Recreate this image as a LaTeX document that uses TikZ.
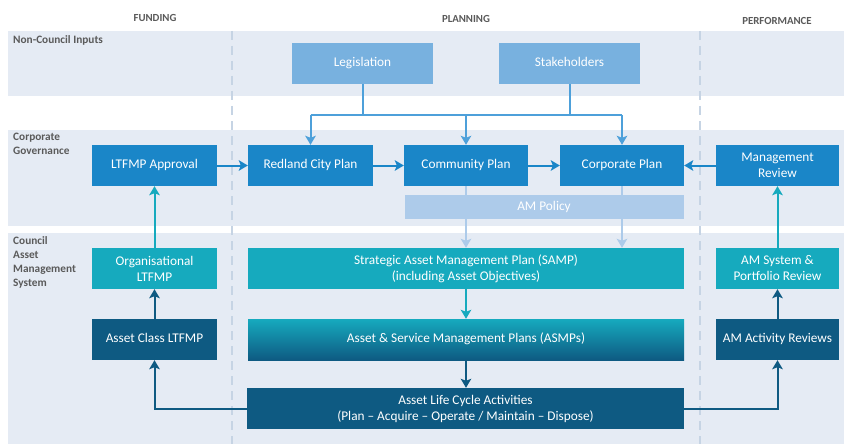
\documentclass[tikz,border=0pt]{standalone}
\usepackage{fontspec}
\setmainfont{Carlito}
\usetikzlibrary{arrows.meta}
\definecolor{bandbg}{HTML}{E5EBF4}
\definecolor{dashc}{HTML}{C6D4E4}
\definecolor{inblue}{HTML}{78B1DF}
\definecolor{corpblue}{HTML}{1A86C8}
\definecolor{polblue}{HTML}{ADCBEA}
\definecolor{tealc}{HTML}{16AABE}
\definecolor{navyc}{HTML}{0E5A82}
\definecolor{linkblue}{HTML}{4DA0DA}
\definecolor{labgray}{HTML}{5A5A5A}
\begin{document}
\begin{tikzpicture}[x=1pt,y=-1pt,
  box/.style={draw=none,text=white,align=center,inner sep=0pt,minimum height=41pt,font=\fontsize{13.3}{16}\selectfont},
  sline/.style={text height=9.5pt,text depth=2.8pt},
  inbox/.style={box,sline,fill=inblue,minimum width=141pt},
  corpbox/.style={box,fill=corpblue,minimum width=124pt},
  tealbox/.style={box,fill=tealc},
  navybox/.style={box,fill=navyc},
  hdr/.style={font=\fontsize{10.8}{13}\selectfont\bfseries,text=labgray},
  bandlab/.style={font=\fontsize{11.3}{14}\selectfont\bfseries,text=labgray,anchor=north west,inner sep=0pt,align=left},
  arr/.style={line width=2pt,-{Stealth[length=9pt,width=10.5pt,inset=2pt]}},
  linkarr/.style={arr,draw=linkblue},
  linkline/.style={line width=2pt,draw=linkblue},
  corparr/.style={arr,draw=corpblue},
  lightarr/.style={arr,draw=polblue},
  tealarr/.style={arr,draw=tealc},
  navyarr/.style={arr,draw=navyc}]
\useasboundingbox[fill=white] (0,0) rectangle (844,444);
% bands
\fill[bandbg] (8,31) rectangle (844,96);
\fill[bandbg] (8,130) rectangle (844,226);
\fill[bandbg] (8,233) rectangle (844,444);
% dashed column separators
\draw[dashc,line width=1.5pt,dash pattern=on 9pt off 6pt] (232,31) -- (232,444);
\draw[dashc,line width=1.5pt,dash pattern=on 9pt off 6pt] (700,31) -- (700,444);
% headers
\node[hdr] (hf) at (155,18) {FUNDING};
\node[hdr] (hp) at (466,19) {PLANNING};
\node[hdr] (hr) at (777,21) {PERFORMANCE};
% band labels
\node[bandlab] (l1) at (13,35) {Non-Council Inputs};
\node[bandlab] (l2) at (13,133) {Corporate\\Governance};
\node[bandlab] (l3) at (13,236) {Council\\Asset\\Management\\System};
% boxes
\node[inbox] (leg) at (362.5,63.5) {Legislation};
\node[inbox] (stk) at (569.5,63.5) {Stakeholders};
\node[corpbox,sline,minimum width=125pt] (ltfa) at (154.5,165.5) {LTFMP Approval};
\node[corpbox,sline,minimum width=125pt] (rcp) at (310.5,165.5) {Redland City Plan};
\node[corpbox,sline] (cmp) at (466,165.5) {Community Plan};
\node[corpbox,sline] (cpp) at (622,165.5) {Corporate Plan};
\node[corpbox,minimum width=123pt] (mgr) at (777.5,165.5) {Management\\Review};
\node[tealbox,minimum width=436pt] (samp) at (466,268.5) {Strategic Asset Management Plan (SAMP)\\(including Asset Objectives)};
\node[tealbox,minimum width=125pt] (org) at (154.5,268.5) {Organisational\\LTFMP};
\node[tealbox,minimum width=123pt] (ams) at (777.5,268.5) {AM System \&\\Portfolio Review};
\node[box,sline,minimum width=436pt,top color=tealc,bottom color=navyc] (asmp) at (466,339.5) {Asset \& Service Management Plans (ASMPs)};
\node[navybox,sline,minimum width=125pt] (acl) at (154.5,339.5) {Asset Class LTFMP};
\node[navybox,sline,minimum width=123pt] (amr) at (777.5,339.5) {AM Activity Reviews};
\node[navybox,minimum width=437pt] (alc) at (465.5,408.5) {Asset Life Cycle Activities\\(Plan -- Acquire -- Operate / Maintain -- Dispose)};
% input bus
\coordinate (busL) at (310.5,115);
\coordinate (busR) at (622,115);
\draw[linkline] (busL) -- (busR);
\draw[linkline] (leg.south) -- (leg.south |- busL);
\draw[linkline] (stk.south) -- (stk.south |- busL);
\draw[linkarr] (busL) -- (rcp.north);
\draw[linkarr] (cmp.north |- busL) -- (cmp.north);
\draw[linkarr] (busR) -- (cpp.north);
% corporate row
\draw[corparr] (ltfa.east) -- (rcp.west);
\draw[corparr] (rcp.east) -- (cmp.west);
\draw[corparr] (cmp.east) -- (cpp.west);
\draw[corparr] (mgr.west) -- (cpp.east);
% policy links
\draw[lightarr] (cmp.south) -- (cmp.south |- samp.north);
\draw[lightarr] (cpp.south) -- (cpp.south |- samp.north);
\node[box,sline,fill=polblue,minimum width=279pt,minimum height=24pt] (amp) at (544,207) {AM Policy};
% planning chain
\draw[tealarr] (samp.south) -- (asmp.north);
\draw[navyarr] (asmp.south) -- (asmp.south |- alc.north);
% funding column
\draw[tealarr] (org.north) -- (ltfa.south);
\draw[navyarr] (acl.north) -- (org.south);
\draw[navyarr] (alc.west) -| (acl.south);
% performance column
\draw[tealarr] (ams.north) -- (mgr.south);
\draw[navyarr] (amr.north) -- (ams.south);
\draw[navyarr] (alc.east) -| (amr.south);
\end{tikzpicture}
\end{document}
